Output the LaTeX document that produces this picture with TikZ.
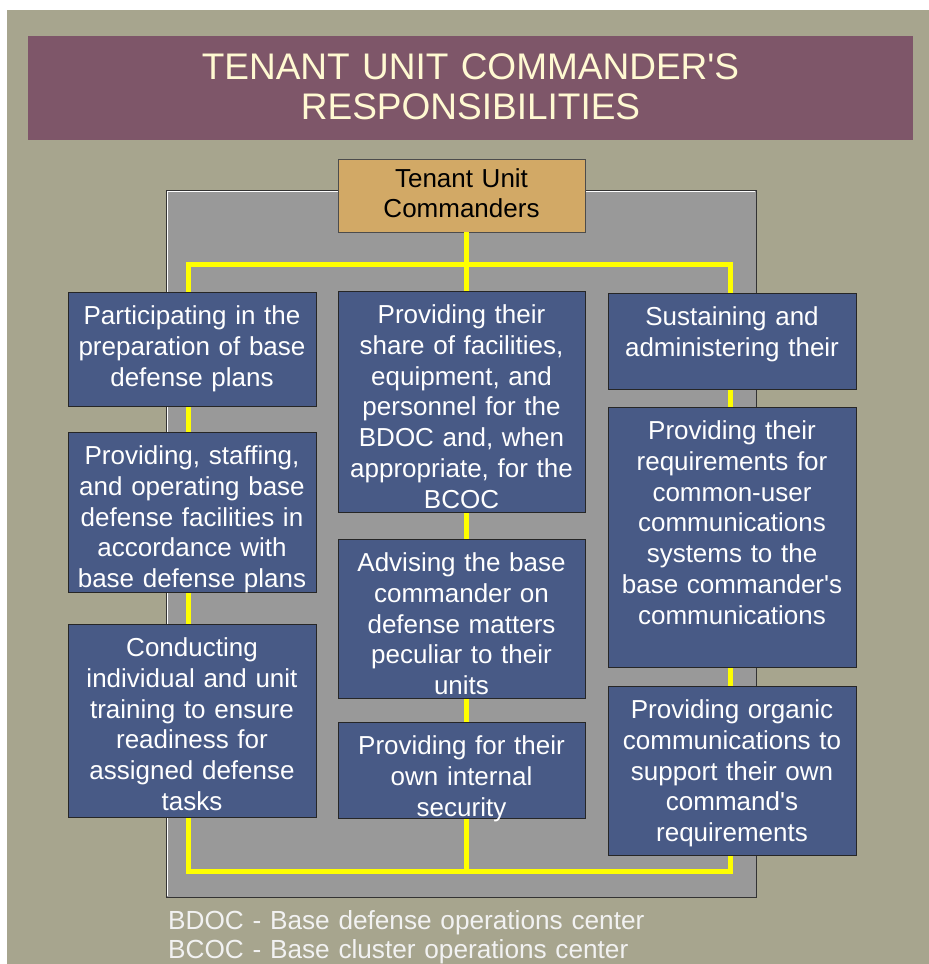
\documentclass[tikz,border=0pt]{standalone}
\usepackage{fontspec}
\setmainfont{Liberation Sans}[Ligatures=TeXOff]
\usetikzlibrary{calc}
\definecolor{bgolive}{HTML}{A7A58E}
\definecolor{titlebg}{HTML}{7E5669}
\definecolor{titletxt}{HTML}{FFF9D2}
\definecolor{panelgray}{HTML}{999999}
\definecolor{boxblue}{HTML}{485A86}
\definecolor{tanbox}{HTML}{D2A966}
\definecolor{connyellow}{HTML}{FFFF00}
\tikzset{
  bluebox/.style={draw=black!85, line width=0.8pt, fill=boxblue, inner sep=0pt, outer sep=0pt},
  boxtext/.style={text=white, font=\fontsize{26}{30.8}\selectfont, text width=244pt, align=center, inner sep=0pt, anchor=base},
  link/.style={draw=connyellow, line width=5pt},
}
\newcommand\mkbox[6]{%
  \node[bluebox, minimum width={#4-#2}, minimum height={#5-#3}] (#1) at ({(#2+#4)/2},{(#3+#5)/2}) {};
  \node[boxtext] (#1t) at ($(#1.north)+(0,32.5)$) {#6};
}
\begin{document}
\begin{tikzpicture}[x=1pt,y=-1pt]
\useasboundingbox (0,0) rectangle (929,964);
\fill[white] (0,0) rectangle (929,964);
\fill[bgolive] (7,10) rectangle (929,964);
% title
\node[fill=titlebg, inner sep=0pt, minimum width=885pt, minimum height=104pt] (titlebox) at (470.5,88) {};
\node[text=titletxt, font=\fontsize{37}{40}\selectfont, text width=880pt, align=center, inner sep=0pt, anchor=base] (title) at ($(titlebox.north)+(0,43.3)$) {TENANT UNIT COMMANDER'S\\RESPONSIBILITIES};
% panel
\node[fill=panelgray, draw=black!80, line width=1pt, inner sep=0pt, minimum width=590pt, minimum height=707pt] (panel) at (461,543.5) {};
\draw[white, line width=0.8pt] ($(panel.south west)+(1.5,-1.5)$) -- ($(panel.north west)+(1.5,1.5)$) -- ($(panel.north east)+(-1.5,1.5)$);
% yellow frame
\coordinate (tl) at (188,264);
\coordinate (br) at (730,871);
\node[fill=tanbox, draw=black!70, line width=0.8pt, inner sep=0pt, minimum width=247pt, minimum height=73pt] (tuc) at (461.5,195.5) {};
\node[text=black, font=\fontsize{26}{30}\selectfont, text width=240pt, align=center, inner sep=0pt, anchor=base] (tuct) at ($(tuc.north)+(0,29)$) {Tenant Unit\\Commanders};
\draw[link] (tl) rectangle (br);
\draw[link] ([xshift=5pt]tuc.south) -- ([xshift=5pt]tuc.south |- br);
% boxes
\mkbox{lone}{68}{292}{316}{406}{Participating in the\\preparation of base\\defense plans}
\mkbox{ltwo}{68}{432}{316}{592}{Providing, staffing,\\and operating base\\defense facilities in\\accordance with\\base defense plans}
\mkbox{lthree}{68}{624}{316}{817}{Conducting\\individual and unit\\training to ensure\\readiness for\\assigned defense\\tasks}
\mkbox{mone}{338}{291}{585}{512}{Providing their\\share of facilities,\\equipment, and\\personnel for the\\BDOC and, when\\appropriate, for the\\BCOC}
\mkbox{mtwo}{338}{539}{585}{698}{Advising the base\\commander on\\defense matters\\peculiar to their\\units}
\mkbox{mthree}{338}{722}{585}{818}{Providing for their\\own internal\\security}
\mkbox{rone}{608}{293}{856}{389}{Sustaining and\\administering their}
\mkbox{rtwo}{608}{407}{856}{667}{Providing their\\requirements for\\common-user\\communications\\systems to the\\base commander's\\communications}
\mkbox{rthree}{608}{686}{856}{855}{Providing organic\\communications to\\support their own\\command's\\requirements}
% footer
\node[text=white!95!black, font=\fontsize{26.2}{28.5}\selectfont, text width=700pt, align=left, inner sep=0pt, anchor=base west] (foot) at (168,929.5) {BDOC - Base defense operations center\\BCOC - Base cluster operations center};
\end{tikzpicture}
\end{document}
